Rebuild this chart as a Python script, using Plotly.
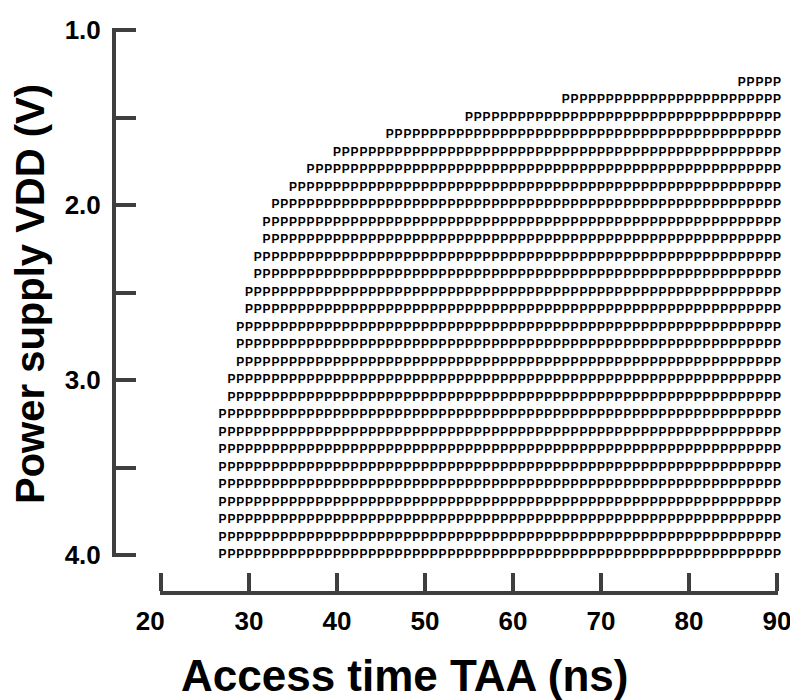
import plotly.graph_objects as go

# Shmoo sweep: supply voltage rows and the access-time grid (1 ns steps)
vdd_levels = [1.3, 1.4, 1.5, 1.6, 1.7, 1.8, 1.9, 2.0, 2.1, 2.2,
              2.3, 2.4, 2.5, 2.6, 2.7, 2.8, 2.9, 3.0, 3.1, 3.2,
              3.3, 3.4, 3.5, 3.6, 3.7, 3.8, 3.9, 4.0]
# shortest passing access time (ns) at each supply level
min_pass_taa = [86, 66, 55, 46, 40, 37, 35, 33, 32, 32,
                31, 31, 30, 30, 29, 29, 29, 28, 28, 27,
                27, 27, 27, 27, 27, 27, 27, 27]
taa_grid = list(range(20, 91))

x_ticks = [20, 30, 40, 50, 60, 70, 80, 90]
x_tick_labels = ["20&nbsp;&nbsp;&nbsp;", "30", "40", "50", "60", "70", "80", "90"]
y_ticks = [1.0, 1.5, 2.0, 2.5, 3.0, 3.5, 4.0]
y_tick_labels = ["1.0", "", "2.0", "", "3.0", "", "4.0"]

pass_x, pass_y = [], []
for v, t0 in zip(vdd_levels, min_pass_taa):
    for t in taa_grid:
        if t >= t0:
            pass_x.append(t)
            pass_y.append(v)

W, H = 790, 700
AXIS_COLOR = "#3f3f3f"
FONT = "Arial, Liberation Sans, sans-serif"

# pixel placement of the axes; ranges are padded slightly so the end ticks
# at 20/90 ns and 1.0/4.0 V are still drawn
X_LO, X_HI, X0_PX, X1_PX = 19.85, 90.15, 161, 777
Y_LO, Y_HI, Y0_PX, Y1_PX = 0.99, 4.01, 30, 555
xs = (X1_PX - X0_PX) / (90 - 20)
ys = (Y1_PX - Y0_PX) / (4.0 - 1.0)
x_dom = [(X0_PX - (20 - X_LO) * xs) / W, (X1_PX + (X_HI - 90) * xs) / W]
y_dom = [1 - (Y1_PX + (Y_HI - 4.0) * ys) / H, 1 - (Y0_PX - (1.0 - Y_LO) * ys) / H]

fig = go.Figure()
fig.add_trace(go.Scatter(
    x=pass_x, y=pass_y, mode="text", text=["<b>P</b>"] * len(pass_x),
    textposition="middle center",
    textfont=dict(family=FONT, size=12, color="#000000"),
    cliponaxis=False, hoverinfo="skip", showlegend=False,
))

fig.update_layout(
    width=W, height=H,
    margin=dict(l=0, r=0, t=0, b=0, autoexpand=False),
    paper_bgcolor="white", plot_bgcolor="white",
    font=dict(family=FONT, color="black"),
    xaxis=dict(
        domain=x_dom, range=[X_LO, X_HI],
        anchor="free", position=1 - 593 / H,
        showgrid=False, zeroline=False,
        showline=True, linewidth=4, linecolor=AXIS_COLOR,
        ticks="inside", ticklen=18, tickwidth=4, tickcolor=AXIS_COLOR,
        tickvals=x_ticks, ticktext=x_tick_labels,
        tickfont=dict(size=26, family=FONT, color="black", weight="bold"),
        ticklabelstandoff=4, ticklabeloverflow="allow",
    ),
    yaxis=dict(
        domain=y_dom, range=[Y_HI, Y_LO],
        anchor="free", position=114 / W,
        showgrid=False, zeroline=False,
        showline=True, linewidth=4, linecolor=AXIS_COLOR,
        ticks="inside", ticklen=20, tickwidth=4, tickcolor=AXIS_COLOR,
        tickvals=y_ticks, ticktext=y_tick_labels,
        tickfont=dict(size=26, family=FONT, color="black", weight="bold"),
        ticklabelstandoff=6, ticklabeloverflow="allow",
    ),
    annotations=[
        dict(text="Access time TAA (ns)", xref="paper", yref="paper",
             x=405 / W, y=1 - 675 / H, xanchor="center", yanchor="middle",
             showarrow=False,
             font=dict(size=44, family=FONT, color="black", weight="bold")),
        dict(text="Power supply VDD (V)", xref="paper", yref="paper",
             x=30 / W, y=1 - 294 / H, xanchor="center", yanchor="middle",
             textangle=-90, showarrow=False,
             font=dict(size=40, family=FONT, color="black", weight="bold")),
    ],
)

fig.write_html("out.html")
